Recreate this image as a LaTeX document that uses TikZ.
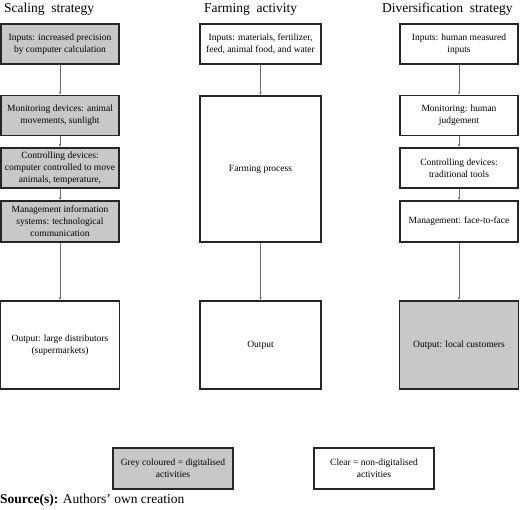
\documentclass[tikz,border=0pt]{standalone}
\usepackage{fontspec}
\setmainfont{Liberation Serif}
\usetikzlibrary{arrows.meta}
\definecolor{boxgrey}{RGB}{200,200,200}
\definecolor{linegrey}{RGB}{110,110,110}
\tikzset{
  stage/.style={
    draw=black!85,
    line width=1.4pt,
    fill=white,
    minimum width=118pt,
    minimum height=40pt,
    align=center,
    inner sep=2pt,
    font=\fontsize{9.5}{12}\selectfont},
  digital/.style={stage, fill=boxgrey},
  flow/.style={
    -{Latex[length=3pt,width=2.5pt]},
    draw=linegrey,
    line width=0.6pt},
  heading/.style={anchor=base west, inner sep=0pt,
    font=\fontsize{13.5}{16}\selectfont}
  }
\begin{document}
\begin{tikzpicture}[x=1pt,y=-1pt]
		\useasboundingbox (0,0) rectangle (520,510);
		% headings
		\node [heading] (hscale) at (4,13) {Scaling\ \ strategy};
		\node [heading] (hfarm) at (204,13) {Farming\ \ activity};
		\node [heading] (hdiv) at (382,13) {Diversification\ \ strategy};
		% scaling strategy
		\node [digital] (sin) at (60,44) {Inputs: increased precision\\by computer calculation};
		\node [digital] (smon) at (60,115.5) {Monitoring devices: animal\\movements, sunlight};
		\node [digital] (sctl) at (60,168) {Controlling devices:\\computer controlled to move\\animals, temperature,};
		\node [digital, minimum height=41pt] (smgt) at (60,221.5) {Management information\\systems: technological\\communication};
		\node [stage, minimum width=119pt, minimum height=88pt] (sout) at (60,345) {Output: large distributors\\(supermarkets)};
		% farming activity
		\node [stage, minimum width=121pt] (fin) at (260.5,44) {Inputs: materials, fertilizer,\\feed, animal food, and water};
		\node [stage, minimum width=121pt, minimum height=146pt] (fproc) at (260.5,169) {Farming process};
		\node [stage, minimum width=121pt, minimum height=88pt] (fout) at (260.5,345) {Output};
		% diversification strategy
		\node [stage] (din) at (459,44) {Inputs: human measured\\inputs};
		\node [stage] (dmon) at (459,115.5) {Monitoring: human\\judgement};
		\node [stage] (dctl) at (459,168) {Controlling devices:\\traditional tools};
		\node [stage, minimum height=41pt] (dmgt) at (459,221.5) {Management: face-to-face};
		\node [digital, minimum width=119pt, minimum height=88pt] (dout) at (459,345) {Output: local customers};
		\draw [flow] (sin) to (smon);
		\draw [flow] (smon) to (sctl);
		\draw [flow] (sctl) to (smgt);
		\draw [flow] (smgt) to (sout);
		\draw [flow] (fin) to (fproc);
		\draw [flow] (fproc) to (fout);
		\draw [flow] (din) to (dmon);
		\draw [flow] (dmon) to (dctl);
		\draw [flow] (dctl) to (dmgt);
		\draw [flow] (dmgt) to (dout);
		% legend
		\node [digital, minimum width=120pt, minimum height=41pt] (lgrey) at (173,468.5) {Grey coloured = digitalised\\activities};
		\node [stage, minimum width=120pt, minimum height=41pt] (lclear) at (374,468.5) {Clear = non-digitalised\\activities};
		\node [heading] (source) at (0,504) {\textbf{Source(s):} Authors' own creation};
	\end{tikzpicture}
\end{document}
